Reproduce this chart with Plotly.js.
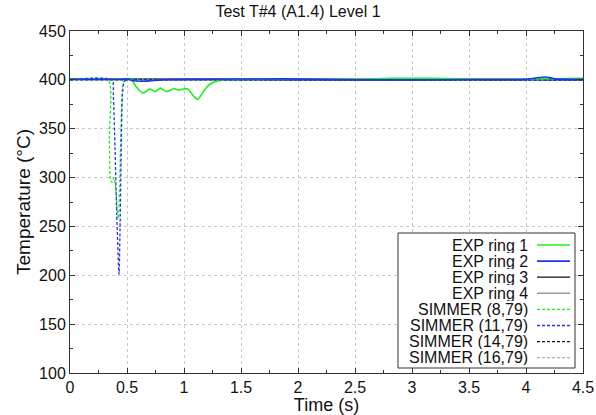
<!DOCTYPE html>
<html>
<head>
<meta charset="utf-8">
<script src="https://cdn.plot.ly/plotly-3.0.1.min.js"></script>
<style>html,body{margin:0;padding:0;background:#fff}#chart{width:596px;height:415px}</style>
</head>
<body>
<div id="chart"></div>
<script>
// ---- data ----
var exp1_t = [0, 0.3, 0.45, 0.5, 0.53, 0.58, 0.64, 0.70, 0.75, 0.79, 0.85, 0.91, 0.96, 1.01, 1.04, 1.08, 1.12, 1.17, 1.22, 1.3, 1.4, 2.0, 2.5, 2.8, 3.2, 3.6, 4.0, 4.5];
var exp1_v = [400.5, 400.5, 400.5, 401, 401.5, 393, 386.5, 390.5, 388, 391.5, 388, 391, 389.5, 391, 390, 384, 380, 388, 395, 399, 400.5, 400.5, 400.5, 401.5, 401.5, 400.5, 400.5, 401.5];

var exp2_t = [0, 0.45, 0.5, 0.56, 0.62, 0.7, 0.8, 1.0, 1.9, 2.5, 3.0, 3.5, 4.0, 4.08, 4.17, 4.26, 4.5];
var exp2_v = [400.5, 400.5, 401, 399, 398.5, 399, 400, 400.5, 401, 400, 400, 400.3, 400.5, 401.8, 403, 401, 400.5];

var exp3_t = [0, 1, 2, 3, 4, 4.5];
var exp3_v = [400.5, 400.5, 400, 400, 400.3, 400];

var exp4_t = [0, 1, 2, 3, 4, 4.5];
var exp4_v = [401.2, 401.2, 401, 401, 401, 401];

var sim8_t = [0, 0.335, 0.345, 0.355, 0.37, 0.385, 0.40, 0.412, 0.424, 0.435, 0.447, 0.46, 0.475, 0.5, 1, 2, 3, 4, 4.5];
var sim8_v = [400, 400, 340, 298, 295, 300, 290, 270, 258, 290, 350, 392, 399, 400, 400, 400, 400, 400, 400];

var sim11_t = [0, 0.37, 0.38, 0.395, 0.41, 0.43, 0.44, 0.45, 0.46, 0.475, 0.5, 1, 2, 3, 4, 4.5];
var sim11_v = [400, 400, 385, 330, 262, 201, 255, 335, 385, 398, 400, 400, 399.6, 399.6, 399.6, 399.6];

var sim14_t = [0, 1, 2, 3, 4, 4.5];
var sim14_v = [400, 400, 400, 400, 400, 400];

var sim16_t = [0, 1, 2, 3, 4, 4.5];
var sim16_v = [400.6, 400.6, 400.6, 400.6, 400.6, 400.6];

var names = ['EXP ring 1', 'EXP ring 2', 'EXP ring 3', 'EXP ring 4',
             'SIMMER (8,79)', 'SIMMER (11,79)', 'SIMMER (14,79)', 'SIMMER (16,79)'];
var xTickVals = [0, 0.5, 1, 1.5, 2, 2.5, 3, 3.5, 4, 4.5];
var xTickText = ['0', '0.5', '1', '1.5', '2', '2.5', '3', '3.5', '4', '4.5'];
var yTickVals = [100, 150, 200, 250, 300, 350, 400, 450];

// ---- styling ----
var colors = ['#22ee22', '#2233ee', '#111111', '#999999', '#22ee22', '#2233ee', '#111111', '#999999'];
var dashes = ['solid', 'solid', 'solid', 'solid', '3px,2px', '3px,2px', '3px,2px', '3px,2px'];
var widths = [1.6, 1.6, 1.3, 1.6, 1.3, 1.3, 1.3, 1.1];
var xs = [exp1_t, exp2_t, exp3_t, exp4_t, sim8_t, sim11_t, sim14_t, sim16_t];
var ys = [exp1_v, exp2_v, exp3_v, exp4_v, sim8_v, sim11_v, sim14_v, sim16_v];

// draw order: back to front
var order = [3, 7, 2, 6, 0, 4, 1, 5];
var traces = order.map(function (i) {
  return {x: xs[i], y: ys[i], name: names[i], type: 'scatter', mode: 'lines',
          line: {color: colors[i], width: widths[i], dash: dashes[i], shape: 'spline', smoothing: 0.6},
          showlegend: false, hoverinfo: 'skip'};
});

// custom legend (text right-aligned, sample on the right, as in reference)
var FONT = 'Liberation Sans, Arial, sans-serif';
var annotations = [];
var shapes = [];
var plotL = 70, plotR = 583, plotT = 31, plotB = 373;
function px(xp) { return (xp - plotL) / (plotR - plotL); }
function py(yp) { return (plotB - yp) / (plotB - plotT); }
shapes.push({type: 'rect', xref: 'paper', yref: 'paper', x0: px(398), x1: px(575), y0: py(368), y1: py(233),
             line: {color: '#333', width: 1}, fillcolor: '#fff', layer: 'above'});
for (var i = 0; i < names.length; i++) {
  var rowY = 245 + i * 16.1;
  annotations.push({xref: 'paper', yref: 'paper', x: px(529), y: py(rowY), xanchor: 'right', yanchor: 'middle',
                    text: names[i], showarrow: false, borderpad: 0, height: 15,
                    font: {family: FONT, size: 16, color: '#111'}});
  shapes.push({type: 'line', xref: 'paper', yref: 'paper', x0: px(537), x1: px(570), y0: py(rowY), y1: py(rowY),
               line: {color: colors[i], width: widths[i], dash: dashes[i]}, layer: 'above'});
}

var layout = {
  width: 596, height: 415,
  margin: {l: 70, r: 13, t: 31, b: 42, pad: 0},
  paper_bgcolor: '#fff', plot_bgcolor: '#fff',
  font: {family: FONT, size: 16, color: '#111'},
  title: {text: 'Test T#4 (A1.4) Level 1', font: {family: FONT, size: 16, color: '#111'},
          x: 0.5, xanchor: 'center', y: 0.972, yanchor: 'middle'},
  xaxis: {range: [0, 4.5], tickvals: xTickVals, ticktext: xTickText,
          ticks: 'inside', ticklen: 5, tickcolor: '#333', mirror: 'ticks',
          showline: true, linecolor: '#333', linewidth: 1,
          showgrid: true, gridcolor: '#c8c8c8', griddash: 'dot', gridwidth: 1,
          zeroline: false,
          minor: {dtick: 0.25, ticks: 'inside', ticklen: 3, tickcolor: '#333', showgrid: false},
          tickfont: {family: FONT, size: 16, color: '#111'},
          title: {text: 'Time (s)', font: {family: FONT, size: 18, color: '#111'}, standoff: 5}},
  yaxis: {range: [100, 450], tickvals: yTickVals,
          ticks: 'inside', ticklen: 5, tickcolor: '#333', mirror: 'ticks',
          showline: true, linecolor: '#333', linewidth: 1,
          showgrid: true, gridcolor: '#c8c8c8', griddash: 'dot', gridwidth: 1,
          zeroline: false,
          minor: {dtick: 25, ticks: 'inside', ticklen: 3, tickcolor: '#333', showgrid: false},
          tickfont: {family: FONT, size: 16, color: '#111'},
          title: {text: 'Temperature (°C)', font: {family: FONT, size: 19, color: '#111'}, standoff: 3}},
  annotations: annotations,
  shapes: shapes
};

Plotly.newPlot('chart', traces, layout, {staticPlot: true, displayModeBar: false});
</script>
</body>
</html>
